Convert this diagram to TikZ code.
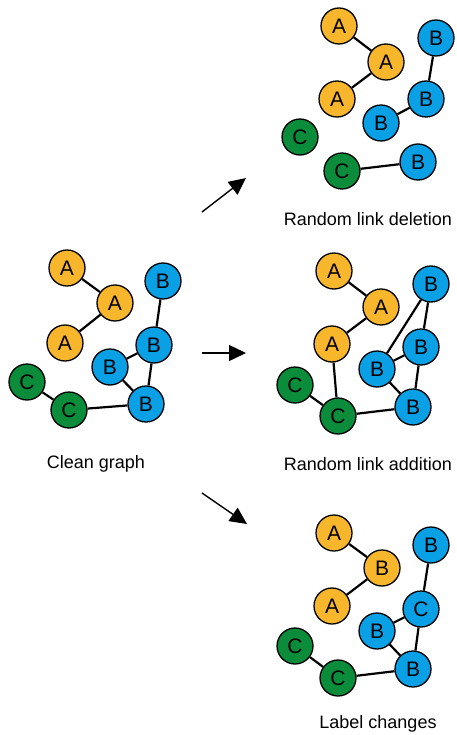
\documentclass[tikz,border=0pt]{standalone}
\usepackage{fontspec}
\setmainfont{Liberation Sans}
\usetikzlibrary{arrows.meta}
\definecolor{orA}{HTML}{F8B62D}
\definecolor{blB}{HTML}{0AA0E6}
\definecolor{grC}{HTML}{0B8C3A}
\tikzset{
  vert/.style={circle, draw=black, line width=1.3pt, minimum size=36pt, inner sep=0pt,
    font=\fontsize{21}{22}\selectfont},
  va/.style={vert, fill=orA},
  vb/.style={vert, fill=blB},
  vc/.style={vert, fill=grC},
  edge/.style={line width=2.2pt, black},
  caption/.style={font=\fontsize{18}{20}\selectfont},
  bigarrow/.style={line width=1.4pt, -{Triangle[length=17pt,width=16pt]}}
}
\begin{document}
\begin{tikzpicture}[x=1pt,y=-1pt]
\useasboundingbox (0,0) rectangle (456,735);
% Clean graph
\node[va] (cA1) at (67,268) {A};
\node[va] (cA2) at (115,303) {A};
\node[va] (cA3) at (65,343) {A};
\node[vb] (cB1) at (163,281) {B};
\node[vb] (cB2) at (154,345) {B};
\node[vb] (cB3) at (110,367) {B};
\node[vb] (cB4) at (146,404) {B};
\node[vc] (cC1) at (27,382) {C};
\node[vc] (cC2) at (69,410) {C};
\draw[edge] (cA1)--(cA2) (cA2)--(cA3) (cB1)--(cB2) (cB2)--(cB3) (cB2)--(cB4) (cB3)--(cB4) (cC1)--(cC2) (cC2)--(cB4);
\node[caption] (cl) at (96,464) {Clean graph};
% Random link deletion
\node[va] (dA1) at (339,26) {A};
\node[va] (dA2) at (386,62) {A};
\node[va] (dA3) at (337,99) {A};
\node[vb] (dB1) at (436,38) {B};
\node[vb] (dB2) at (426,99) {B};
\node[vb] (dB3) at (381,123) {B};
\node[vb] (dB4) at (418,162) {B};
\node[vc] (dC1) at (300,137) {C};
\node[vc] (dC2) at (342,171) {C};
\draw[edge] (dA1)--(dA2) (dA2)--(dA3) (dB1)--(dB2) (dB2)--(dB3) (dC2)--(dB4);
\node[caption] (dl) at (368,219) {Random link deletion};
% Random link addition
\node[va] (aA1) at (334,271) {A};
\node[va] (aA2) at (381,307) {A};
\node[va] (aA3) at (332,344) {A};
\node[vb] (aB1) at (431,284) {B};
\node[vb] (aB2) at (421,347) {B};
\node[vb] (aB3) at (377,369) {B};
\node[vb] (aB4) at (413,407) {B};
\node[vc] (aC1) at (295,385) {C};
\node[vc] (aC2) at (338,416) {C};
\draw[edge] (aA1)--(aA2) (aA2)--(aA3) (aA3)--(aC2) (aC1)--(aC2) (aC2)--(aB4) (aB1)--(aB2) (aB1)--(aB3) (aB2)--(aB3) (aB2)--(aB4) (aB3)--(aB4);
\node[caption] (al) at (368,464) {Random link addition};
% Label changes
\node[va] (lA1) at (334,533) {A};
\node[va] (lA2) at (382,568) {B};
\node[va] (lA3) at (332,606) {A};
\node[vb] (lB1) at (431,545) {B};
\node[vb] (lB2) at (421,609) {C};
\node[vb] (lB3) at (377,631) {B};
\node[vb] (lB4) at (413,669) {B};
\node[vc] (lC1) at (295,646) {C};
\node[vc] (lC2) at (338,678) {C};
\draw[edge] (lA1)--(lA2) (lA2)--(lA3) (lB1)--(lB2) (lB2)--(lB3) (lB2)--(lB4) (lB3)--(lB4) (lC1)--(lC2) (lC2)--(lB4);
\node[caption] (ll) at (378,724) {Label changes};
% Arrows
\coordinate (t0) at (202,212); \coordinate (t1) at (246,178);
\coordinate (m0) at (202,353); \coordinate (m1) at (246,353);
\coordinate (b0) at (202,493); \coordinate (b1) at (247,524);
\draw[bigarrow] (t0)--(t1);
\draw[bigarrow] (m0)--(m1);
\draw[bigarrow] (b0)--(b1);
\end{tikzpicture}
\end{document}
